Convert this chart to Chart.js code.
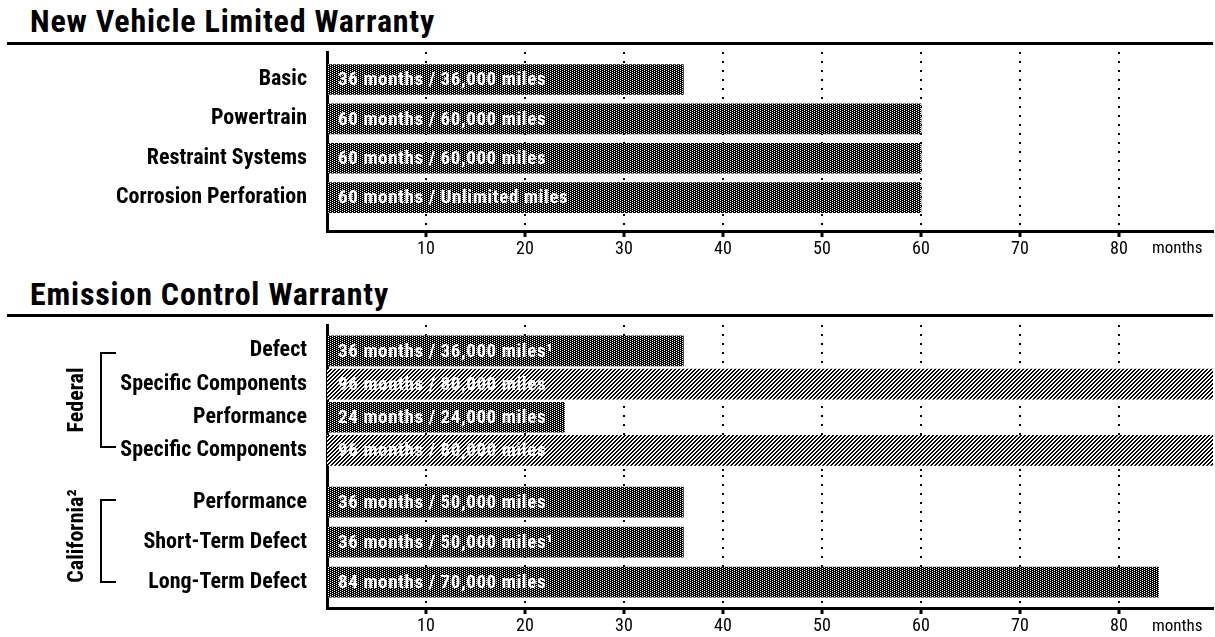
<!DOCTYPE html>
<html>
<head>
<meta charset="utf-8">
<script src="https://cdn.jsdelivr.net/npm/chart.js@4"></script>
<style>
  body { margin: 0; width: 1215px; height: 637px; position: relative; background: #fff; overflow: hidden;
    font-family: "Roboto Condensed", "Liberation Sans Narrow", "DejaVu Sans Condensed", sans-serif; color: #000; }
  .title { position: absolute; left: 30px; font-weight: bold; font-size: 32px; line-height: 32px;
    letter-spacing: 0.8px; white-space: nowrap; }
  .rule { position: absolute; left: 7px; width: 1206px; height: 3px; background: #000; }
  canvas { position: absolute; left: 0; }
  .unit { position: absolute; left: 1152px; font-size: 17px; line-height: 17px; }
  .group { position: absolute; font-weight: bold; font-size: 22px; line-height: 22px; white-space: nowrap;
    transform: translate(-50%, -50%) rotate(-90deg); }
  .bracket { position: absolute; left: 100px; width: 14px; border: 2px solid #000; border-right: none; }
</style>
</head>
<body>
<div class="title" style="top:5px">New Vehicle Limited Warranty</div>
<div class="rule" style="top:42px"></div>
<canvas id="chartNew" width="1215" height="226" style="top:44px"></canvas>
<div class="unit" style="top:239px">months</div>

<div class="title" style="top:278px">Emission Control Warranty</div>
<div class="rule" style="top:314px"></div>
<canvas id="chartFed" width="1215" height="159" style="top:316px"></canvas>
<canvas id="chartCal" width="1215" height="162" style="top:475px"></canvas>
<div class="unit" style="top:617px">months</div>

<div class="bracket" style="top:352px; height:92px"></div>
<div class="group" style="left:76px; top:400px">Federal</div>
<div class="bracket" style="top:499px; height:80px"></div>
<div class="group" style="left:76px; top:536px">California²</div>

<script>
const monthTicks = [10, 20, 30, 40, 50, 60, 70, 80];

const newLabels = ['Basic', 'Powertrain', 'Restraint Systems', 'Corrosion Perforation'];
const newMonths = [36, 60, 60, 60];
const newText = ['36 months / 36,000 miles', '60 months / 60,000 miles', '60 months / 60,000 miles', '60 months / Unlimited miles'];

const fedLabels = ['Defect', 'Specific Components', 'Performance', 'Specific Components'];
const fedMonths = [36, null, 24, null];
const fedSpecificMonths = [null, 96, null, 96];
const fedText = ['36 months / 36,000 miles¹', '96 months / 80,000 miles', '24 months / 24,000 miles', '96 months / 80,000 miles'];

const calLabels = ['Performance', 'Short-Term Defect', 'Long-Term Defect'];
const calMonths = [36, 36, 84];
const calText = ['36 months / 50,000 miles', '36 months / 50,000 miles¹', '84 months / 70,000 miles'];

const FONT = '"Roboto Condensed", "Liberation Sans Narrow", "DejaVu Sans Condensed", sans-serif';

// dot screen for the dark bars, diagonal hatch for the light ones
function darkPattern() {
  const c = document.createElement('canvas');
  c.width = 4; c.height = 2;
  const g = c.getContext('2d');
  g.fillStyle = '#000'; g.fillRect(0, 0, 4, 2);
  g.fillStyle = '#fff'; g.fillRect(0, 0, 1, 1); g.fillRect(2, 1, 1, 1);
  return g.createPattern(c, 'repeat');
}
function hatchPattern() {
  const c = document.createElement('canvas');
  c.width = 4; c.height = 4;
  const g = c.getContext('2d');
  g.fillStyle = '#fff'; g.fillRect(0, 0, 4, 4);
  g.fillStyle = '#000';
  for (let y = 0; y < 4; y++) {
    g.fillRect((3 - y + 4) % 4, y, 1, 1);
    g.fillRect((4 - y) % 4, y, 1, 1);
  }
  return g.createPattern(c, 'repeat');
}

function barTextPlugin(texts) {
  return {
    id: 'barText',
    afterDatasetsDraw(chart) {
      const ctx = chart.ctx;
      ctx.save();
      ctx.font = 'bold 19px ' + FONT;
      ctx.letterSpacing = '0.6px';
      ctx.fillStyle = '#fff';
      ctx.textBaseline = 'middle';
      chart.data.datasets.forEach((ds, di) => {
        chart.getDatasetMeta(di).data.forEach((bar, i) => {
          ctx.fillText(texts[ds.data[i].y], bar.base + 11, bar.y + 1);
        });
      });
      ctx.restore();
    }
  };
}

function rows(values) {
  return values.map((v, i) => v == null ? null : { x: v, y: i }).filter(Boolean);
}

function makeChart(id, labels, series, texts, yMin, yMax, showAxis, xHeight, padTop) {
  return new Chart(document.getElementById(id), {
    type: 'bar',
    data: {
      datasets: series.map(s => ({
        data: rows(s.values),
        backgroundColor: s.pattern,
        borderWidth: 0,
        barThickness: 30,
        grouped: false,
        clip: 0
      }))
    },
    options: {
      indexAxis: 'y',
      responsive: false,
      animation: false,
      layout: { padding: { top: padTop, right: 2, left: 0, bottom: 0 } },
      plugins: { legend: { display: false }, tooltip: { enabled: false } },
      scales: {
        x: {
          type: 'linear', min: 0, max: 89.5, offset: false,
          afterBuildTicks: s => { s.ticks = monthTicks.map(v => ({ value: v })); },
          afterFit: s => { s.height = xHeight; s.paddingLeft = 0; s.paddingRight = 0; },
          ticks: { display: showAxis, padding: 2, color: '#000', font: { family: FONT, size: 18 } },
          grid: { color: '#000', lineWidth: 2, drawTicks: showAxis, tickLength: 6, tickWidth: 3, tickColor: '#000' },
          border: { display: showAxis, color: '#000', width: 3, dash: [2, 7] }
        },
        y: {
          type: 'linear', reverse: true, min: yMin, max: yMax, offset: false,
          afterBuildTicks: s => { s.ticks = labels.map((l, i) => ({ value: i })); },
          afterFit: s => { s.width = 327; s.paddingTop = 0; s.paddingBottom = 0; },
          ticks: { callback: v => labels[v], autoSkip: false, padding: 20, color: '#000',
                   font: { family: FONT, size: 22, weight: 'bold' } },
          grid: { display: false, drawTicks: false, offset: false },
          border: { display: true, color: '#000', width: 3 }
        }
      }
    },
    plugins: [barTextPlugin(texts)]
  });
}

const dark = darkPattern();
const light = hatchPattern();

makeChart('chartNew', newLabels, [{ values: newMonths, pattern: dark }], newText, -0.7, 3.85, true, 39, 8);
makeChart('chartFed', fedLabels, [
  { values: fedMonths, pattern: dark },
  { values: fedSpecificMonths, pattern: light }
], fedText, -0.78, 3.74, false, 0, 9);
makeChart('chartCal', calLabels, [{ values: calMonths, pattern: dark }], calText, -0.68, 2.645, true, 29, 0);
</script>
</body>
</html>
